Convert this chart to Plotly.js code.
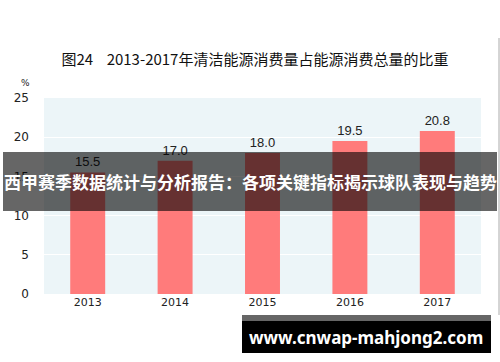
<!DOCTYPE html>
<html><head><meta charset="utf-8">
<script src="https://cdn.plot.ly/plotly-3.0.1.min.js"></script>
<style>html,body{margin:0;padding:0;background:#fff;}#c{width:500px;height:362px;}</style>
</head><body><div id="c"></div>
<script>
const years = ['2013','2014','2015','2016','2017'];
const shares = [15.5, 17.0, 18.0, 19.5, 20.8];
const yTicks = [0,5,10,15,20,25];
const titleText = '图24\u00a0\u00a0\u00a0 2013-2017年清洁能源消费量占能源消费总量的比重';
const bannerText = '西甲赛季数据统计与分析报告：各项关键指标揭示球队表现与趋势';
const siteText = 'www.cnwap-mahjong2.com';

const L=44, R=19, T=98, B=68, W=500, H=362;
const pw=W-L-R, ph=H-T-B;
const px=x=>(x-L)/pw, py=y=>(H-B-y)/ph;

const trace = {
  type:'bar', x:years, y:shares,
  marker:{color:'#FF7B7B'},
  text:shares.map(v=>v.toFixed(1)), textposition:'outside',
  textfont:{family:'Liberation Sans, Arial, sans-serif', size:13, color:'#222'},
  cliponaxis:false, hoverinfo:'none'
};
const layout = {
  width:W, height:H,
  margin:{l:L, r:R, t:T, b:B, pad:0},
  paper_bgcolor:'#ffffff', plot_bgcolor:'#ECF5F8',
  bargap:0.6, showlegend:false,
  font:{family:'Liberation Sans, Arial, sans-serif', color:'#222'},
  title:{text:titleText, x:255/W, xanchor:'center', y:1-60/H, yanchor:'middle',
    font:{family:'Noto Sans CJK SC, sans-serif', size:15, color:'#111'}},
  xaxis:{type:'category', showgrid:false, zeroline:false, showline:false, ticks:'',
    tickfont:{family:'DejaVu Sans, sans-serif', size:11, color:'#222'}},
  yaxis:{range:[0,25], tickvals:yTicks, showgrid:true, gridcolor:'#ffffff', gridwidth:1,
    zeroline:false, showline:false, ticks:'', ticklabelstandoff:14,
    tickfont:{family:'DejaVu Sans, sans-serif', size:12, color:'#222'}},
  shapes:[
    {type:'rect', xref:'paper', yref:'paper', x0:px(3), x1:px(497), y0:py(211), y1:py(152),
      fillcolor:'rgba(0,0,0,0.6)', line:{width:0}, layer:'above'},
    {type:'rect', xref:'paper', yref:'paper', x0:px(242), x1:px(491), y0:py(321), y1:py(315),
      fillcolor:'rgba(0,0,0,0.6)', line:{width:0}, layer:'above'},
    {type:'rect', xref:'paper', yref:'paper', x0:px(242), x1:px(491), y0:py(353), y1:py(321),
      fillcolor:'#000000', line:{width:0}, layer:'above'},
    {type:'line', xref:'paper', yref:'paper', x0:px(499), x1:px(499), y0:py(38), y1:py(315),
      line:{color:'#aaaaaa', width:1}, layer:'above'}
  ],
  annotations:[
    {text:'%', xref:'paper', yref:'paper', x:px(25), y:py(83), xanchor:'center', yanchor:'middle', showarrow:false,
      font:{family:'DejaVu Sans, sans-serif', size:9, color:'#222'}},
    {text:'<b>'+bannerText+'</b>', xref:'paper', yref:'paper', x:px(250), y:py(181), xanchor:'center', yanchor:'middle', showarrow:false,
      font:{family:'Noto Sans CJK SC, sans-serif', size:17, color:'#ffffff'}},
    {text:'<b>'+siteText+'</b>', xref:'paper', yref:'paper', x:px(366), y:py(337), xanchor:'center', yanchor:'middle', showarrow:false,
      font:{family:'Noto Sans, sans-serif', size:17, color:'#ffffff'}}
  ]
};
Plotly.newPlot('c',[trace],layout,{displayModeBar:false,staticPlot:true});
</script></body></html>
